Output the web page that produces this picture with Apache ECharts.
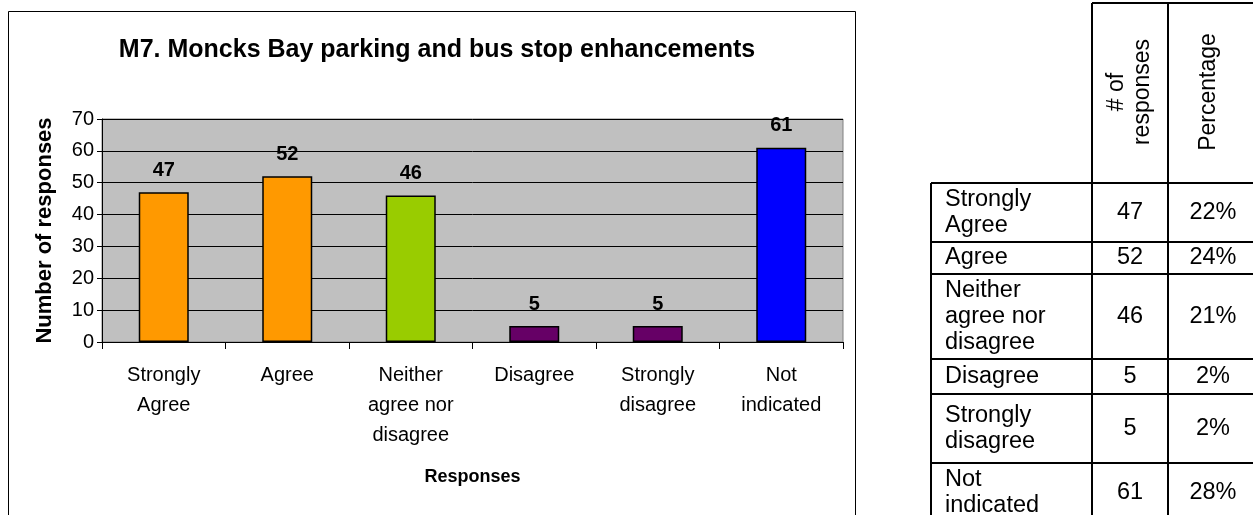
<!DOCTYPE html>
<html>
<head>
<meta charset="utf-8">
<script src="https://cdn.jsdelivr.net/npm/echarts@6/dist/echarts.min.js"></script>
<style>
html,body{margin:0;padding:0;background:#fff;}
#chart{width:1253px;height:515px;}
</style>
</head>
<body>
<div id="chart"></div>
<script>
// ---- data ----
const titleText = 'M7. Moncks Bay parking and bus stop enhancements';
const categories = ['Strongly\nAgree', 'Agree', 'Neither\nagree nor\ndisagree', 'Disagree', 'Strongly\ndisagree', 'Not\nindicated'];
const responses = [47, 52, 46, 5, 5, 61];
const percentages = ['22%', '24%', '21%', '2%', '2%', '28%'];
const yTickMin = 0, yTickMax = 70, yTickStep = 10;
const tableHeaders = ['# of\nresponses', 'Percentage'];

// ---- styles / layout ----
const barColors = ['#FF9900', '#FF9900', '#99CC00', '#660066', '#660066', '#0000FF'];
const FONT = '"Liberation Sans", Arial, sans-serif';
const colX = [931, 1092, 1168, 1258];
const rowEdges = [183, 242, 274, 359, 394, 463, 523];
const headerTop = 3;

const chart = echarts.init(document.getElementById('chart'), null, {renderer: 'canvas'});

const graphics = [];
// outer chart frame
graphics.push({type: 'rect', shape: {x: 8.5, y: 11.5, width: 847, height: 520}, style: {fill: null, stroke: '#000', lineWidth: 1}, silent: true, z: 0});

// table
const tLine = (x1, y1, x2, y2) => graphics.push({type: 'line', shape: {x1, y1, x2, y2}, style: {stroke: '#000', lineWidth: 2}, silent: true, z: 10});
tLine(colX[1], headerTop, colX[3], headerTop);
tLine(colX[1], headerTop, colX[1], rowEdges[0]);
tLine(colX[2], headerTop, colX[2], rowEdges[0]);
rowEdges.forEach(y => tLine(colX[0], y, colX[3], y));
[0, 1, 2, 3].forEach(c => tLine(colX[c], rowEdges[0], colX[c], rowEdges[rowEdges.length - 1]));

// header texts (rotated)
tableHeaders.forEach((h, i) => {
  graphics.push({
    type: 'text', x: (colX[i + 1] + colX[i + 2]) / 2 + (i === 1 ? -4 : 0), y: 92, rotation: Math.PI / 2,
    style: {text: h, fill: '#000', fontFamily: FONT, fontSize: 23, lineHeight: 26, align: 'center', verticalAlign: 'middle'},
    silent: true, z: 10
  });
});
// body texts
categories.forEach((c, i) => {
  const cy = (rowEdges[i] + rowEdges[i + 1]) / 2;
  graphics.push({type: 'text', x: 945, y: cy, style: {text: c, fill: '#000', fontFamily: FONT, fontSize: 23.5, lineHeight: 26, align: 'left', verticalAlign: 'middle'}, silent: true, z: 10});
  graphics.push({type: 'text', x: (colX[1] + colX[2]) / 2, y: cy, style: {text: String(responses[i]), fill: '#000', fontFamily: FONT, fontSize: 23.5, align: 'center', verticalAlign: 'middle'}, silent: true, z: 10});
  graphics.push({type: 'text', x: 1213, y: cy, style: {text: percentages[i], fill: '#000', fontFamily: FONT, fontSize: 23.5, align: 'center', verticalAlign: 'middle'}, silent: true, z: 10});
});

const option = {
  animation: false,
  backgroundColor: '#fff',
  title: {
    text: titleText,
    left: 432, top: 33, textAlign: 'center',
    textStyle: {fontFamily: FONT, fontSize: 25, fontWeight: 'bold', color: '#000'}
  },
  grid: {
    left: 102, top: 119, right: 410, bottom: 173,
    show: true, backgroundColor: '#C0C0C0', borderColor: '#808080', borderWidth: 1,
    containLabel: false
  },
  xAxis: {
    type: 'category',
    data: categories,
    name: 'Responses',
    nameLocation: 'middle',
    nameGap: 126,
    nameTextStyle: {fontFamily: FONT, fontSize: 18, fontWeight: 'bold', color: '#000'},
    axisLine: {show: true, lineStyle: {color: '#000', width: 1}},
    axisTick: {show: true, alignWithLabel: false, length: 7, lineStyle: {color: '#000'}},
    axisLabel: {fontFamily: FONT, fontSize: 20, color: '#000', lineHeight: 30, margin: 18, interval: 0, align: 'center'},
    splitLine: {show: false}
  },
  yAxis: {
    type: 'value',
    min: yTickMin, max: yTickMax, interval: yTickStep,
    name: 'Number of responses',
    nameLocation: 'middle',
    nameGap: 46,
    nameRotate: 90,
    nameTextStyle: {fontFamily: FONT, fontSize: 22, fontWeight: 'bold', color: '#000'},
    axisLine: {show: true, lineStyle: {color: '#000', width: 1}},
    axisTick: {show: true, length: 5, lineStyle: {color: '#000'}},
    axisLabel: {fontFamily: FONT, fontSize: 20, color: '#000', margin: 8},
    splitLine: {show: true, lineStyle: {color: '#000', width: 1}}
  },
  series: [{
    type: 'bar',
    barWidth: 50,
    data: responses.map((v, i) => ({value: v, itemStyle: {color: barColors[i]}})),
    itemStyle: {borderColor: '#000', borderWidth: 1.5},
    label: {show: true, position: 'top', distance: 12, fontFamily: FONT, fontSize: 20, fontWeight: 'bold', color: '#000'}
  }],
  graphic: graphics
};
chart.setOption(option);
</script>
</body>
</html>
